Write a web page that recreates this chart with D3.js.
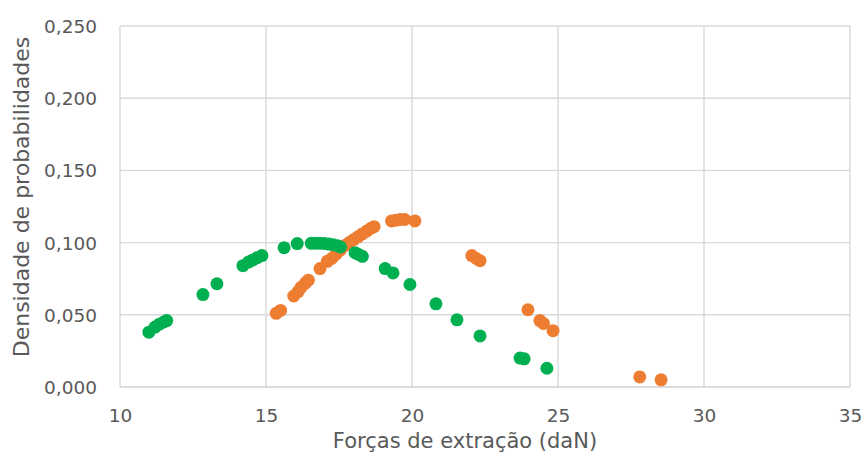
<!DOCTYPE html>
<html>
<head>
<meta charset="utf-8">
<script src="https://cdn.jsdelivr.net/npm/d3@7"></script>
<style>
  html, body { margin: 0; padding: 0; background: #fff; }
  svg text { font-family: "DejaVu Sans", sans-serif; fill: #595959; }
</style>
</head>
<body>
<svg id="chart" width="864" height="452"></svg>
<script>
// Probability density of extraction forces, two samples
const xTicks = [10, 15, 20, 25, 30, 35];
const yTicks = [0, 0.05, 0.10, 0.15, 0.20, 0.25];

const greenForce = [10.99, 11.2, 11.35, 11.5, 11.6, 12.84, 13.32, 14.21, 14.4, 14.55, 14.7, 14.86,
  15.62, 16.07, 16.55, 16.7, 16.85, 17.0, 17.15, 17.3, 17.45, 17.55, 18.05, 18.15, 18.3,
  19.08, 19.35, 19.93, 20.82, 21.54, 22.33, 23.7, 23.84, 24.62];
const greenDensity = [0.038, 0.0415, 0.0435, 0.045, 0.046, 0.064, 0.0715, 0.084, 0.0865, 0.088, 0.0895, 0.091,
  0.0965, 0.0993, 0.0995, 0.0996, 0.0996, 0.0994, 0.0990, 0.0985, 0.0978, 0.097, 0.093, 0.092, 0.0905,
  0.082, 0.079, 0.071, 0.0576, 0.0465, 0.0354, 0.020, 0.0195, 0.013];

const orangeForce = [15.35, 15.5, 15.95, 16.1, 16.2, 16.35, 16.45, 16.85, 17.1, 17.25, 17.4, 17.55,
  17.7, 17.85, 18.0, 18.15, 18.3, 18.45, 18.6, 18.7, 19.3, 19.45, 19.6, 19.75, 20.1,
  22.05, 22.2, 22.33, 23.97, 24.38, 24.5, 24.83, 27.8, 28.53];
const orangeDensity = [0.051, 0.053, 0.063, 0.066, 0.069, 0.072, 0.074, 0.082, 0.087, 0.089, 0.092, 0.095,
  0.098, 0.100, 0.102, 0.104, 0.106, 0.108, 0.110, 0.111, 0.115, 0.1155, 0.116, 0.116, 0.115,
  0.091, 0.089, 0.0875, 0.0535, 0.046, 0.044, 0.039, 0.007, 0.005];

const xTitle = "Forças de extração (daN)";
const yTitle = "Densidade de probabilidades";

const svg = d3.select("#chart");
const plotLeft = 120, plotRight = 850, plotTop = 26, plotBottom = 387;

const x = d3.scaleLinear().domain([10, 35]).range([plotLeft, plotRight]);
const y = d3.scaleLinear().domain([0, 0.25]).range([plotBottom, plotTop]);

// gridlines
svg.append("g").selectAll("line").data(yTicks.slice(1)).join("line")
  .attr("x1", plotLeft).attr("x2", plotRight)
  .attr("y1", d => y(d)).attr("y2", d => y(d))
  .attr("stroke", "#d9d9d9").attr("stroke-width", 1.4);
svg.append("g").selectAll("line").data(xTicks).join("line")
  .attr("x1", d => x(d)).attr("x2", d => x(d))
  .attr("y1", plotTop).attr("y2", plotBottom)
  .attr("stroke", "#d9d9d9").attr("stroke-width", 1.4);

// axes (labels only; the bottom line is drawn separately)
const fmt = d => d3.format(".3f")(d).replace(".", ",");
const yAxis = svg.append("g").attr("transform", `translate(${plotLeft},0)`)
  .call(d3.axisLeft(y).tickValues(yTicks).tickFormat(fmt).tickSize(0).tickPadding(23));
yAxis.select(".domain").remove();
yAxis.selectAll("text").attr("font-size", 18.5).attr("fill", "#595959")
  .attr("font-family", "DejaVu Sans, sans-serif").attr("dy", "0.35em");

const xAxis = svg.append("g").attr("transform", `translate(0,${plotBottom})`)
  .call(d3.axisBottom(x).tickValues(xTicks).tickFormat(d3.format("d")).tickSize(0).tickPadding(35));
xAxis.select(".domain").remove();
xAxis.selectAll("text").attr("font-size", 18.5).attr("fill", "#595959")
  .attr("font-family", "DejaVu Sans, sans-serif").attr("dy", "0");

// bottom axis line
svg.append("line").attr("x1", plotLeft).attr("x2", plotRight).attr("y1", plotBottom).attr("y2", plotBottom)
  .attr("stroke", "#d0d0d0").attr("stroke-width", 1.6);

// series: orange first, green over it
const orange = orangeForce.map((f, i) => ({ f, d: orangeDensity[i] }));
const green = greenForce.map((f, i) => ({ f, d: greenDensity[i] }));

svg.append("g").selectAll("circle").data(orange).join("circle")
  .attr("cx", p => x(p.f)).attr("cy", p => y(p.d)).attr("r", 6.5)
  .attr("fill", "#ED7D31");
svg.append("g").selectAll("circle").data(green).join("circle")
  .attr("cx", p => x(p.f)).attr("cy", p => y(p.d)).attr("r", 6.5)
  .attr("fill", "#00B050");

// axis titles
svg.append("text").attr("x", 465).attr("y", 448)
  .attr("text-anchor", "middle").attr("font-size", 21).text(xTitle);
svg.append("text").attr("transform", "translate(29,197) rotate(-90)")
  .attr("text-anchor", "middle").attr("font-size", 22).text(yTitle);
</script>
</body>
</html>
